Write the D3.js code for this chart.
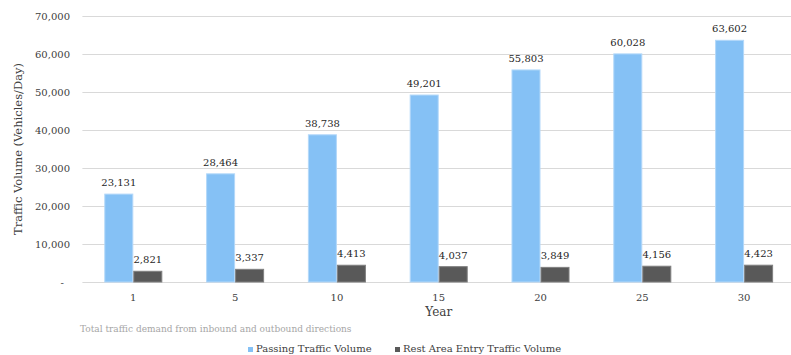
<!DOCTYPE html>
<html lang="en">
<head>
<meta charset="utf-8">
<title>Traffic Volume</title>
<script src="https://cdn.jsdelivr.net/npm/d3@7"></script>
<style>
  * { margin: 0; padding: 0; }
  body { background: #fff; width: 791px; height: 355px; overflow: hidden; }
  svg { display: block; font-family: "DejaVu Serif", Georgia, serif; }
</style>
</head>
<body>
<svg id="chart" width="791" height="355"></svg>
<script>
const years = ["1", "5", "10", "15", "20", "25", "30"];
const passing = [23131, 28464, 38738, 49201, 55803, 60028, 63602];
const restArea = [2821, 3337, 4413, 4037, 3849, 4156, 4423];
const yTicks = [0, 10000, 20000, 30000, 40000, 50000, 60000, 70000];
const seriesNames = ["Passing Traffic Volume", "Rest Area Entry Traffic Volume"];
const colors = ["#85c1f5", "#595959"];
const strokes = ["#b3d8f9", "#808080"];

const svg = d3.select("#chart");
const plot = { left: 82.4, right: 795, top: 16, bottom: 282 };

const x = d3.scaleBand().domain(years).range([plot.left, plot.right]).paddingInner(0.43).paddingOuter(0.215);
const x1 = d3.scaleBand().domain([0, 1]).range([0, x.bandwidth()]);
const y = d3.scaleLinear().domain([0, 70000]).range([plot.bottom, plot.top]);
const fmt = d3.format(",");

// gridlines
svg.append("g").selectAll("line").data(yTicks).join("line")
  .attr("x1", plot.left).attr("x2", 791)
  .attr("y1", d => y(d) + 0.5).attr("y2", d => y(d) + 0.5)
  .attr("stroke", "#d9d9d9").attr("stroke-width", 1);

// y tick labels
svg.append("g").selectAll("text").data(yTicks).join("text")
  .attr("x", d => d === 0 ? 64 : 70).attr("y", d => y(d))
  .attr("dy", "0.35em").attr("text-anchor", "end")
  .attr("font-size", 10).attr("fill", "#404040")
  .text(d => d === 0 ? "-" : fmt(d));

// bars
const groups = svg.append("g").selectAll("g").data(years).join("g")
  .attr("transform", d => `translate(${x(d)},0)`);

[passing, restArea].forEach((vals, s) => {
  groups.append("rect")
    .attr("x", x1(s) + 0.5)
    .attr("width", x1.bandwidth() - 1)
    .attr("y", (d, i) => y(vals[i]))
    .attr("height", (d, i) => plot.bottom - y(vals[i]))
    .attr("fill", colors[s]).attr("stroke", strokes[s]).attr("stroke-width", 1);
  groups.append("text")
    .attr("x", x1(s) + x1.bandwidth() / 2)
    .attr("y", (d, i) => y(vals[i]) - 8)
    .attr("text-anchor", "middle")
    .attr("font-size", 10).attr("fill", "#262626")
    .text((d, i) => fmt(vals[i]));
});

// x tick labels
svg.append("g").selectAll("text").data(years).join("text")
  .attr("x", d => x(d) + x.bandwidth() / 2).attr("y", 301)
  .attr("text-anchor", "middle").attr("font-size", 10).attr("fill", "#404040")
  .text(d => d);

// axis titles
svg.append("text").attr("x", (plot.left + plot.right) / 2).attr("y", 316)
  .attr("text-anchor", "middle").attr("font-size", 12).attr("fill", "#404040")
  .text("Year");

svg.append("text")
  .attr("transform", `translate(22,${(plot.top + plot.bottom) / 2}) rotate(-90)`)
  .attr("text-anchor", "middle").attr("font-size", 11.5).attr("fill", "#404040")
  .text("Traffic Volume (Vehicles/Day)");

// note
svg.append("text").attr("x", 80).attr("y", 332)
  .attr("font-size", 9).attr("fill", "#a6a6a6")
  .text("Total traffic demand from inbound and outbound directions");

// legend
const legendX = [248, 395];
const legend = svg.append("g").selectAll("g").data(seriesNames).join("g")
  .attr("transform", (d, i) => `translate(${legendX[i]},347)`);
legend.append("rect").attr("width", 5).attr("height", 5).attr("fill", (d, i) => colors[i]);
legend.append("text").attr("x", 8).attr("y", 5)
  .attr("font-size", 10).attr("fill", "#404040")
  .text(d => d);
</script>
</body>
</html>
